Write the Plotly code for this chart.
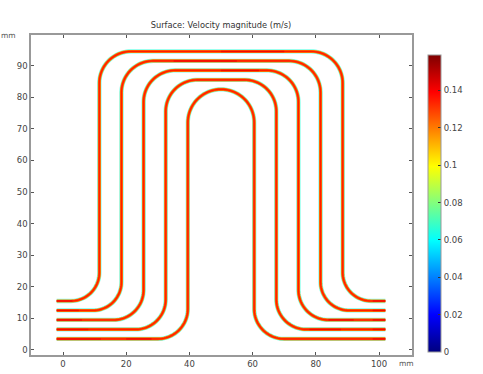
import numpy as np
import plotly.graph_objects as go

# Channel geometry (mm)
x_start = -2.0
x_end = 102.0
left_x = [11.5, 18.5, 25.5, 32.5, 39.5]
right_x = [88.5, 81.5, 74.5, 67.5, 60.5]
base_y = [15.5, 12.5, 9.5, 6.5, 3.5]
top_y = [94.5, 91.5, 88.5, 85.5, 82.5]
low_radius = [9.0, 9.0, 9.5, 9.5, 9.5]
top_radius = [10.0, 10.0, 10.0, 10.0, 10.5]

# Velocity through the channel cross-section, edge to centre (m/s), width in px, opacity
layer_velocity = [0.065, 0.118, 0.128, 0.136]
layer_width = [4.3, 3.1, 2.2, 1.1]
layer_opacity = [0.6, 1.0, 1.0, 0.85]

# Faster stretches on the straight horizontal runs (mm)
hot_y = [15.5, 12.5, 9.5, 6.5, 3.5, 3.5, 15.5, 12.5, 9.5, 6.5, 3.5, 6.5, 9.5, 94.5, 91.5, 88.5]
hot_x0 = [-2, -2, -2, -2, -2, 20, 98, 98, 98, 98, 98, 78, 84, 50, 35, 50]
hot_x1 = [3, 5, 6, 8, 12, 28, 102, 102, 102, 102, 102, 88, 92, 70, 55, 62]
hot_velocity = 0.142

colorbar_ticks = [0, 0.02, 0.04, 0.06, 0.08, 0.1, 0.12, 0.14]
colorbar_labels = ["0", "0.02", "0.04", "0.06", "0.08", "0.1", "0.12", "0.14"]
velocity_max = 0.159

x_ticks = [0, 20, 40, 60, 80, 100]
y_ticks = [0, 10, 20, 30, 40, 50, 60, 70, 80, 90]

JET = [[0, "#00007f"], [0.125, "#0000ff"], [0.375, "#00ffff"], [0.625, "#ffff00"],
       [0.875, "#ff0000"], [1, "#7f0000"]]

W, H = 483, 374
L, R, T, B = 31, 71, 35, 19
plot_h = H - T - B
plot_w = W - L - R


def jet(v):
    t = v / velocity_max
    stops = [(s, tuple(int(c[i:i + 2], 16) for i in (1, 3, 5))) for s, c in JET]
    for (a, ca), (b, cb) in zip(stops, stops[1:]):
        if a <= t <= b:
            f = (t - a) / (b - a)
            return "rgb(%d,%d,%d)" % tuple(ca[i] + f * (cb[i] - ca[i]) for i in range(3))
    return JET[-1][1]


def arc(cx, cy, r, a0, a1, n=24):
    a = np.radians(np.linspace(a0, a1, n))
    return cx + r * np.cos(a), cy + r * np.sin(a)


def channel(lx, rx, by, ty, rl, rt):
    xs, ys = [np.array([x_start])], [np.array([by])]
    ax, ay = arc(lx - rl, by + rl, rl, -90, 0)
    xs.append(ax); ys.append(ay)
    ax, ay = arc(lx + rt, ty - rt, rt, 180, 90)
    xs.append(ax); ys.append(ay)
    ax, ay = arc(rx - rt, ty - rt, rt, 90, 0)
    xs.append(ax); ys.append(ay)
    ax, ay = arc(rx + rl, by + rl, rl, 180, 270)
    xs.append(ax); ys.append(ay)
    xs.append(np.array([x_end])); ys.append(np.array([by]))
    return np.concatenate(xs), np.concatenate(ys)


all_x, all_y = [], []
for i in range(len(left_x)):
    cx, cy = channel(left_x[i], right_x[i], base_y[i], top_y[i], low_radius[i], top_radius[i])
    all_x += list(cx) + [None]
    all_y += list(cy) + [None]

fig = go.Figure()
for v, w, o in zip(layer_velocity, layer_width, layer_opacity):
    fig.add_trace(go.Scatter(x=all_x, y=all_y, mode="lines", hoverinfo="skip", opacity=o,
                             showlegend=False, line=dict(color=jet(v), width=w, simplify=False)))

hx, hy = [], []
for a, b, y in zip(hot_x0, hot_x1, hot_y):
    hx += [a, b, None]
    hy += [y, y, None]
fig.add_trace(go.Scatter(x=hx, y=hy, mode="lines", hoverinfo="skip", opacity=0.7, showlegend=False,
                         line=dict(color=jet(hot_velocity), width=1.5, simplify=False)))

fig.add_trace(go.Scatter(
    x=[None], y=[None], mode="markers", showlegend=False, hoverinfo="skip",
    marker=dict(color=[0], cmin=0, cmax=velocity_max, colorscale=JET, showscale=True,
                colorbar=dict(
                    x=(428 - L) / plot_w, xanchor="left", xref="paper",
                    y=(H - B - 352) / plot_h, yanchor="bottom", yref="paper",
                    len=296.5, lenmode="pixels", thickness=13, thicknessmode="pixels",
                    tickvals=colorbar_ticks, ticktext=colorbar_labels,
                    ticks="inside", ticklen=3, tickcolor="#333333",
                    tickfont=dict(family="DejaVu Sans", size=8.5, color="#444444"),
                    outlinecolor="#999999", outlinewidth=1, borderwidth=0, xpad=0, ypad=0)),
))

axis_style = dict(showgrid=False, zeroline=False, showline=True, mirror="ticks",
                  linecolor="#999999", linewidth=1.5, ticks="inside", ticklen=3,
                  tickcolor="#555555", tickwidth=1,
                  tickfont=dict(family="DejaVu Sans", size=8.5, color="#444444"))

fig.update_layout(
    width=W, height=H,
    margin=dict(l=L, r=R, t=T, b=B, autoexpand=False),
    paper_bgcolor="white", plot_bgcolor="white",
    xaxis=dict(range=[-10.13, 110.44], tickvals=x_ticks, automargin=False, **axis_style),
    yaxis=dict(range=[-1.6, 99.7], tickvals=y_ticks, automargin=False, **axis_style),
    title=dict(text="Surface: Velocity magnitude (m/s)", x=221 / W, xanchor="center",
               y=1 - 25.5 / H, yanchor="middle",
               font=dict(family="DejaVu Sans", size=8.25, color="#333333")),
    annotations=[
        dict(text="mm", xref="paper", yref="paper", x=(8 - L) / plot_w, y=(H - B - 35.5) / plot_h,
             xanchor="center", yanchor="middle", showarrow=False,
             font=dict(family="DejaVu Sans", size=7.5, color="#555555")),
        dict(text="mm", xref="paper", yref="paper", x=(406 - L) / plot_w, y=(H - B - 363.5) / plot_h,
             xanchor="center", yanchor="middle", showarrow=False,
             font=dict(family="DejaVu Sans", size=7.5, color="#555555")),
    ],
)
fig.write_html("out.html", config=dict(displayModeBar=False),
               post_script="document.body.style.margin='0';document.body.style.overflow='hidden';")
